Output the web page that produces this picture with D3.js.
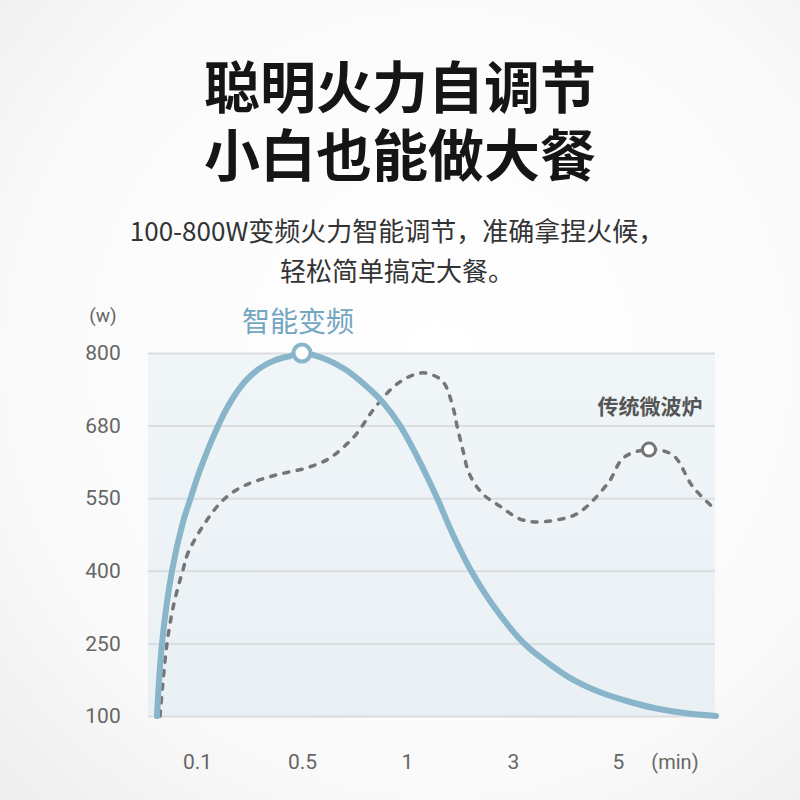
<!DOCTYPE html>
<html>
<head>
<meta charset="utf-8">
<script src="https://cdn.jsdelivr.net/npm/d3@7"></script>
<style>
    body { margin: 0; background: #fff; }
    svg { display: block; font-family: "Noto Sans CJK SC", "Noto Sans", sans-serif; }
</style>
</head>
<body>
<div id="chart"></div>
<script>
// chart values
const titleLines = ["聪明火力自调节", "小白也能做大餐"];
const subtitleLines = ["100-800W变频火力智能调节，准确拿捏火候，", "轻松简单搞定大餐。"];
const seriesNames = ["智能变频", "传统微波炉"];

// y ticks are evenly spaced even though the values are not
const yTicks = [100, 250, 400, 550, 680, 800];
const xTicks = [0.1, 0.5, 1, 3, 5];
const xDomain = [0, 0.1, 0.5, 1, 3, 5, 6];

// inverter (solid blue)
const inverterTime  = [0, 0.0125, 0.0375, 0.065, 0.0825, 0.111, 0.176, 0.226, 0.283, 0.34, 0.397, 0.454, 0.5,
    0.61, 0.705, 0.8, 0.886, 0.967, 1.21, 1.55, 1.87, 2.21, 2.66, 3.21, 3.70, 4.16, 4.66, 5.09, 5.38, 5.68, 6];
const inverterPower = [100, 250, 400, 501, 546, 600, 675, 718, 753, 775, 788, 795, 800,
    790, 773, 747, 718, 680, 621, 554, 474, 400, 323, 250, 207, 174, 149, 131, 116, 106, 100];

// traditional microwave (dashed grey)
const microwaveTime  = [0.0075, 0.025, 0.0425, 0.065, 0.0775, 0.138, 0.207, 0.283, 0.397, 0.529, 0.629, 0.69, 0.757, 0.848, 0.957,
    1.264, 1.528, 1.70, 1.868, 1.943, 2.057, 2.17, 2.415, 2.774, 3.133, 3.438, 3.82, 4.238, 4.81, 5.06, 5.316, 5.561, 5.765, 5.98];
const microwavePower = [100, 250, 333, 402, 437, 505, 550, 573, 591, 605, 621, 639, 664, 710, 750,
    767, 762, 750, 710, 680, 635, 595, 559, 532, 507, 501, 505, 519, 577, 623, 637, 627, 570, 529];

// svg set up
let svgWidth = 800;
let svgHeight = 800;
let plot = { left: 148, right: 715, top: 353, bottom: 716 };
let numFont = "Roboto, 'Noto Sans', sans-serif";

let svg = d3.select("#chart")
    .append("svg")
    .attr("width", svgWidth)
    .attr("height", svgHeight);

let defs = svg.append("defs");

// soft page background
let bgGrad = defs.append("radialGradient")
    .attr("id", "bg")
    .attr("cx", "55%").attr("cy", "45%").attr("r", "75%");
bgGrad.append("stop").attr("offset", "0%").attr("stop-color", "#ffffff");
bgGrad.append("stop").attr("offset", "70%").attr("stop-color", "#fafafa");
bgGrad.append("stop").attr("offset", "100%").attr("stop-color", "#efefef");

let plotGrad = defs.append("linearGradient")
    .attr("id", "plotbg")
    .attr("x1", 0).attr("y1", 0).attr("x2", 0).attr("y2", 1);
plotGrad.append("stop").attr("offset", "0%").attr("stop-color", "#f0f5f8");
plotGrad.append("stop").attr("offset", "100%").attr("stop-color", "#e9f0f4");

svg.append("rect")
    .attr("width", svgWidth)
    .attr("height", svgHeight)
    .attr("fill", "url(#bg)");

// titles
svg.selectAll(".title")
    .data(titleLines)
    .enter()
    .append("text")
    .attr("class", "title")
    .attr("x", 400)
    .attr("y", (d, i) => 108 + i * 68)
    .attr("text-anchor", "middle")
    .attr("font-size", 56)
    .attr("font-weight", "bold")
    .attr("fill", "#151515")
    .text(d => d);

svg.selectAll(".subtitle")
    .data(subtitleLines)
    .enter()
    .append("text")
    .attr("class", "subtitle")
    .attr("x", 397)
    .attr("y", (d, i) => 241 + i * 40)
    .attr("text-anchor", "middle")
    .attr("font-size", 26)
    .attr("fill", "#333")
    .text(d => d);

// scales (piecewise, the ticks sit at equal steps)
let xScale = d3.scaleLinear()
    .domain(xDomain)
    .range([157, 197, 302, 407, 513, 618, 716]);
let yScale = d3.scaleLinear()
    .domain(yTicks)
    .range(yTicks.map((d, i) => plot.bottom - i * (plot.bottom - plot.top) / (yTicks.length - 1)));

// plot background
svg.append("rect")
    .attr("x", plot.left)
    .attr("y", plot.top)
    .attr("width", plot.right - plot.left)
    .attr("height", plot.bottom - plot.top)
    .attr("fill", "url(#plotbg)");

// y axis with grid lines
let yAxis = svg.append("g")
    .attr("transform", `translate(${plot.left},0)`)
    .call(d3.axisLeft(yScale)
        .tickValues(yTicks)
        .tickSize(-(plot.right - plot.left))
        .tickPadding(0));
yAxis.select(".domain").remove();
yAxis.selectAll("line")
    .attr("stroke", "#d9dde0")
    .attr("stroke-width", 2);
yAxis.selectAll("text")
    .attr("x", -45)
    .attr("text-anchor", "middle")
    .attr("font-family", numFont)
    .attr("font-size", 21)
    .attr("fill", "#666");

// x axis
let xAxis = svg.append("g")
    .attr("transform", `translate(0,${plot.bottom})`)
    .call(d3.axisBottom(xScale)
        .tickValues(xTicks)
        .tickFormat(d3.format(""))
        .tickSize(0)
        .tickPadding(38));
xAxis.select(".domain").remove();
xAxis.selectAll("text")
    .attr("font-family", numFont)
    .attr("font-size", 21)
    .attr("fill", "#666");

// unit labels
svg.append("text")
    .attr("x", 103)
    .attr("y", 322)
    .attr("text-anchor", "middle")
    .attr("font-family", numFont)
    .attr("font-size", 19)
    .attr("fill", "#666")
    .text("(w)");
svg.append("text")
    .attr("x", 675)
    .attr("y", 769)
    .attr("text-anchor", "middle")
    .attr("font-family", numFont)
    .attr("font-size", 20)
    .attr("fill", "#666")
    .text("(min)");

// lines
let inverterData = inverterTime.map((t, i) => ({ t: t, w: inverterPower[i] }));
let microwaveData = microwaveTime.map((t, i) => ({ t: t, w: microwavePower[i] }));

let line = d3.line()
    .x(d => xScale(d.t))
    .y(d => yScale(d.w))
    .curve(d3.curveCatmullRom.alpha(0.5));

svg.append("path")
    .datum(microwaveData)
    .attr("d", line)
    .attr("fill", "none")
    .attr("stroke", "#757575")
    .attr("stroke-width", 3.5)
    .attr("stroke-linecap", "round")
    .attr("stroke-dasharray", "5 8.5");

svg.append("path")
    .datum(inverterData)
    .attr("d", line)
    .attr("fill", "none")
    .attr("stroke", "#88b5ca")
    .attr("stroke-width", 6)
    .attr("stroke-linecap", "round");

// markers
let inverterPeak = inverterData[d3.maxIndex(inverterData, d => d.w)];
let lateData = microwaveData.filter(d => d.t > 4);
let microwavePeak = lateData[d3.maxIndex(lateData, d => d.w)];

svg.append("circle")
    .attr("cx", xScale(inverterPeak.t))
    .attr("cy", yScale(inverterPeak.w))
    .attr("r", 8.5)
    .attr("fill", "#fff")
    .attr("stroke", "#88b5ca")
    .attr("stroke-width", 4);

svg.append("circle")
    .attr("cx", xScale(microwavePeak.t))
    .attr("cy", yScale(microwavePeak.w))
    .attr("r", 6.5)
    .attr("fill", "#fff")
    .attr("stroke", "#757575")
    .attr("stroke-width", 3);

// series labels
svg.append("text")
    .attr("x", xScale(inverterPeak.t) - 4)
    .attr("y", yScale(inverterPeak.w) - 21)
    .attr("text-anchor", "middle")
    .attr("font-size", 28)
    .attr("fill", "#72a6c1")
    .text(seriesNames[0]);

svg.append("text")
    .attr("x", 650)
    .attr("y", 414)
    .attr("text-anchor", "middle")
    .attr("font-size", 21)
    .attr("font-weight", "bold")
    .attr("fill", "#555")
    .text(seriesNames[1]);
</script>
</body>
</html>
